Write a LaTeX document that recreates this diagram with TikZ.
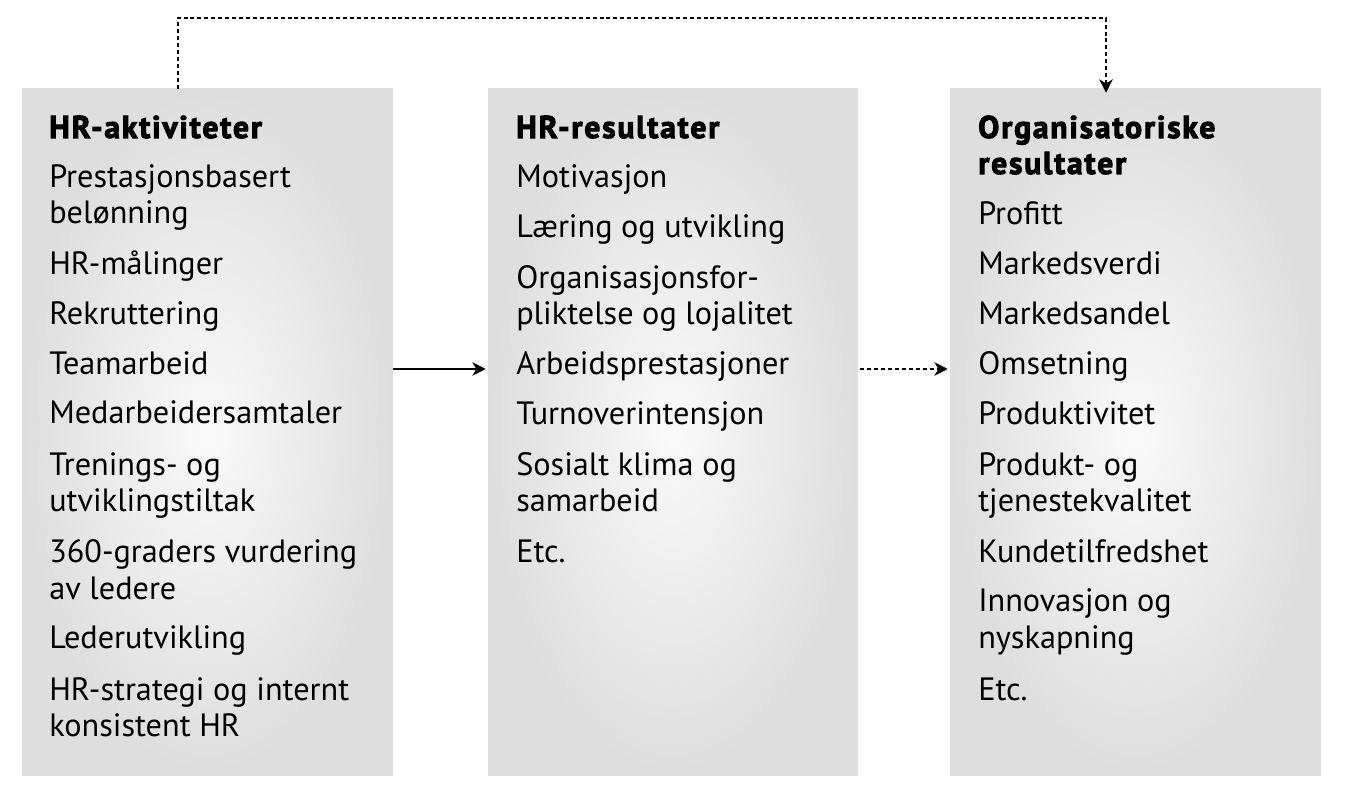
\documentclass[tikz,border=0pt]{standalone}
\usepackage{fontspec}
\setmainfont{PT Sans}
\newfontfamily\heavyfont{PT Sans}[FakeBold=3.2, LetterSpace=6]
\usetikzlibrary{arrows.meta}
\begin{document}
\begin{tikzpicture}[x=0.75pt,y=-0.75pt,
  panel/.style={rectangle, inner sep=0pt, minimum height=514.5pt, shade, inner color=black!2, outer color=black!13},
  txt/.style={anchor=base west, inner sep=0pt, font=\fontsize{24.2}{28}\selectfont},
  head/.style={txt, font=\fontsize{23.6}{26}\selectfont\heavyfont\bfseries},
  conn/.style={line width=1.4pt, -{Stealth[length=10pt,width=10pt,inset=3pt]}},
  dconn/.style={conn, dash pattern=on 3pt off 2.2pt}]
\useasboundingbox (0,0) rectangle (1345,809);
\node[panel, minimum width=278.25pt] (b1) at (207.5,432) {};
\node[panel, minimum width=277.5pt] (b2) at (673,432) {};
\node[panel, minimum width=278.25pt] (b3) at (1135.5,432) {};
% left column
\node[head] (t1) at (49,138) {HR-aktiviteter};
\foreach \t/\yy [count=\i] in {Prestasjonsbasert/188, belønning/224, HR-målinger/275, Rekruttering/324, Teamarbeid/374, Medarbeidersamtaler/423, Trenings- og/475, utviklingstiltak/511, 360-graders vurdering/562, av ledere/599, Lederutvikling/648, HR-strategi og internt/700, konsistent HR/736}
  \node[txt] (l\i) at (49,\yy) {\t};
% middle column
\node[head] (t2) at (516,138) {HR-resultater};
\foreach \t/\yy [count=\i] in {Motivasjon/188, Læring og utvikling/238, Organisasjonsfor-/288, pliktelse og lojalitet/324, Arbeidsprestasjoner/374, Turnoverintensjon/424, Sosialt klima og/475, samarbeid/511, Etc./562}
  \node[txt] (m\i) at (516,\yy) {\t};
% right column
\node[head] (t3a) at (978,138) {Organisatoriske};
\node[head] (t3b) at (978,174) {resultater};
\foreach \t/\yy [count=\i] in {Profitt/225, Markedsverdi/275, Markedsandel/324, Omsetning/374, Produktivitet/424, Produkt- og/475, tjenestekvalitet/511, Kundetilfredshet/562, Innovasjon og/611, nyskapning/648, Etc./700}
  \node[txt] (r\i) at (978,\yy) {\t};
% connectors
\draw[conn, shorten >=1.5pt] (b1.east |- 0,369) -- (b2.west |- 0,369);
\draw[dconn, shorten <=1.5pt, shorten >=1.5pt] (b2.east |- 0,369) -- (b3.west |- 0,369);
\draw[dconn, shorten >=-3pt] (b1.north -| 178,0) -- (178,18) -- (1106,18) -- (b3.north -| 1106,0);
\end{tikzpicture}
\end{document}
